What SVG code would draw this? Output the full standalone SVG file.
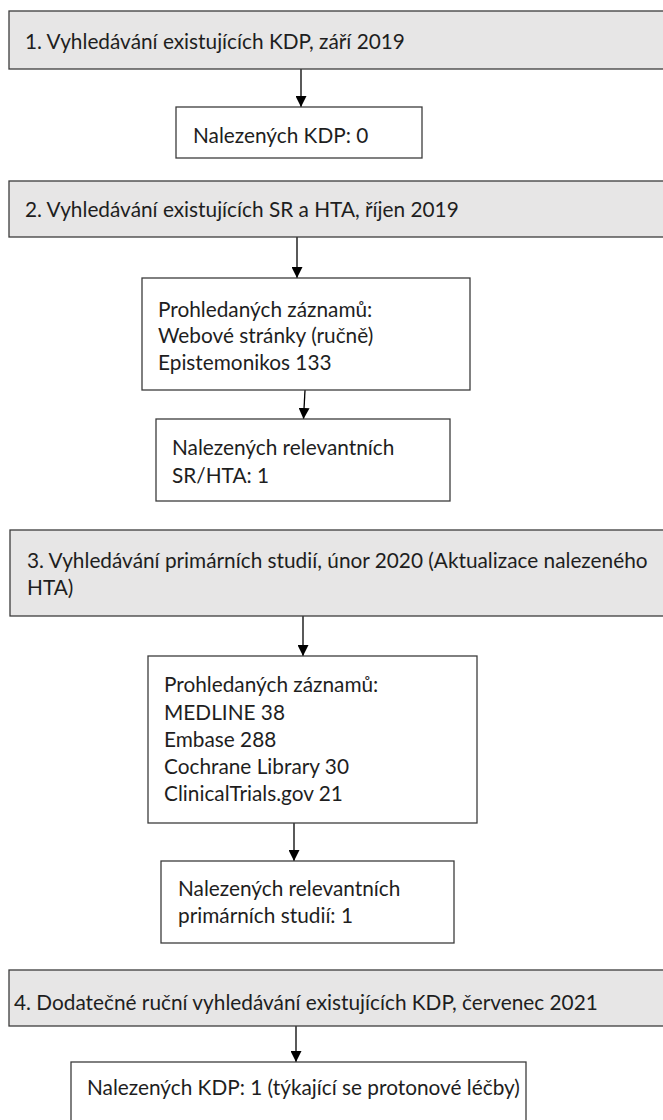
<svg xmlns="http://www.w3.org/2000/svg" width="663" height="1120" viewBox="0 0 663 1120">
<style>
.hdr{fill:#e7e6e6;stroke:#3c3c3c;stroke-width:1.3}
.box{fill:#ffffff;stroke:#3c3c3c;stroke-width:1.3}
text{font-family:Lato,"Liberation Sans",sans-serif;font-size:20.8px;fill:#1e1e1e}
.con{stroke:#000;stroke-width:1.3;fill:none;marker-end:url(#ah)}
</style>
<defs>
<marker id="ah" markerUnits="userSpaceOnUse" markerWidth="12" markerHeight="11" refX="11" refY="5.5" orient="auto">
<path d="M0,0 L11,5.5 L0,11 Z" fill="#000"/>
</marker>
</defs>
<rect width="663" height="1120" fill="#ffffff"/>
<g id="connectors">
<line class="con" x1="301" y1="69" x2="301" y2="107"/>
<line class="con" x1="297" y1="237" x2="297" y2="278"/>
<line class="con" x1="305" y1="390" x2="303.5" y2="419"/>
<line class="con" x1="303" y1="616" x2="303" y2="656"/>
<line class="con" x1="294" y1="823" x2="294" y2="861"/>
<line class="con" x1="296" y1="1026" x2="296" y2="1062"/>
</g>
<g id="step1">
<rect class="hdr" x="9" y="11" width="670" height="58"/>
<text x="25" y="49">1. Vyhledávání existujících KDP, září 2019</text>
</g>
<g id="result1">
<rect class="box" x="176" y="107" width="246" height="51"/>
<text x="193" y="143">Nalezených KDP: 0</text>
</g>
<g id="step2">
<rect class="hdr" x="9" y="181" width="670" height="56"/>
<text x="25" y="217">2. Vyhledávání existujících SR a HTA, říjen 2019</text>
</g>
<g id="search2">
<rect class="box" x="142" y="278" width="328" height="112"/>
<text x="158" y="317">Prohledaných záznamů:</text>
<text x="158" y="343">Webové stránky (ručně)</text>
<text x="158" y="370">Epistemonikos 133</text>
</g>
<g id="result2">
<rect class="box" x="156" y="419" width="294" height="82"/>
<text x="172" y="455">Nalezených relevantních</text>
<text x="172" y="483">SR/HTA: 1</text>
</g>
<g id="step3">
<rect class="hdr" x="10" y="530" width="670" height="86"/>
<text x="27" y="568">3. Vyhledávání primárních studií, únor 2020 (Aktualizace nalezeného</text>
<text x="27" y="595">HTA)</text>
</g>
<g id="search3">
<rect class="box" x="148" y="656" width="329" height="167"/>
<text x="164" y="692">Prohledaných záznamů:</text>
<text x="164" y="720">MEDLINE 38</text>
<text x="164" y="747">Embase 288</text>
<text x="164" y="774">Cochrane Library 30</text>
<text x="164" y="801">ClinicalTrials.gov 21</text>
</g>
<g id="result3">
<rect class="box" x="161" y="861" width="293" height="82"/>
<text x="178" y="896">Nalezených relevantních</text>
<text x="178" y="923">primárních studií: 1</text>
</g>
<g id="step4">
<rect class="hdr" x="9" y="970" width="670" height="56"/>
<text x="14" y="1010">4. Dodatečné ruční vyhledávání existujících KDP, červenec 2021</text>
</g>
<g id="result4">
<rect class="box" x="71" y="1062" width="455" height="70"/>
<text x="87" y="1095">Nalezených KDP: 1 (týkající se protonové léčby)</text>
</g>
</svg>
